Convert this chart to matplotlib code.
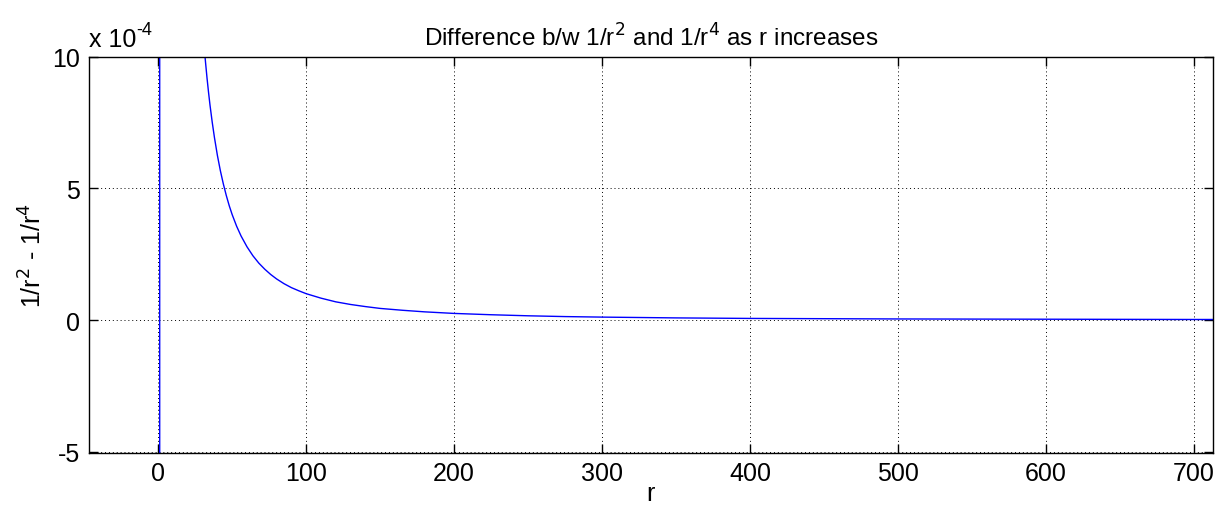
import numpy as np
import matplotlib
matplotlib.use('Agg')
import matplotlib.pyplot as plt

# r values and 1/r^2 - 1/r^4 (in units of 1e-4)
r = [0.2, 1.0, 1.5, 20,
     31, 32, 33, 34, 35, 36.5, 38, 40, 42, 44, 46, 48, 50, 53, 56, 60, 64, 68, 72, 76, 80,
     85, 90, 95, 100, 110, 120, 130, 140, 150, 165, 180, 200, 225, 250, 275, 300,
     350, 400, 450, 500, 600, 700, 713]
diff = [-6000, 0, 2469, 24.9,
        10.4, 9.77, 9.18, 8.65, 8.16, 7.51, 6.93, 6.25, 5.67, 5.17, 4.73, 4.34, 4.0, 3.56, 3.19,
        2.78, 2.44, 2.16, 1.93, 1.73, 1.56,
        1.38, 1.23, 1.11, 1.0, 0.83, 0.69, 0.59, 0.51, 0.44, 0.37, 0.31, 0.25, 0.20, 0.16, 0.13, 0.11,
        0.08, 0.06, 0.05, 0.04, 0.03, 0.02, 0.02]

xticks = [0, 100, 200, 300, 400, 500, 600, 700]
yticks = [-5, 0, 5, 10]

plt.rcParams['font.family'] = ['Liberation Sans', 'DejaVu Sans']
plt.rcParams['axes.unicode_minus'] = False

fig = plt.figure(figsize=(12.2, 5.06), dpi=100)
ax = fig.add_axes([0.0727, 0.1028, 0.9216, 0.7832])
ax.plot(np.array(r), np.array(diff), color='#0000ff', linewidth=1.0)

ax.set_xlim(-47, 713)
ax.set_ylim(-5.05, 10)
ax.set_xticks(xticks)
ax.set_yticks(yticks)
ax.grid(True, color='black', linestyle=(0, (1, 3)), linewidth=0.7)
ax.tick_params(direction='in', length=6.5, width=1, top=True, right=True,
               labelsize=18, pad=6)
for s in ax.spines.values():
    s.set_linewidth(1.0)

ax.set_title('Difference b/w 1/r$^2$ and 1/r$^4$ as r increases', fontsize=17.5, pad=8)
ax.set_xlabel('r', fontsize=18, labelpad=-3)
ax.set_ylabel('1/r$^2$ - 1/r$^4$', fontsize=18)
ax.yaxis.set_label_coords(-0.037, 0.5)

# exponent marker above the y axis
t1 = ax.text(0.0, 1.014, 'x 10', transform=ax.transAxes, fontsize=18,
             ha='left', va='bottom')
ax.annotate('-4', xy=(1.0, 0.55), xycoords=t1, fontsize=13,
            ha='left', va='bottom')

fig.savefig('out.png', dpi=100)
